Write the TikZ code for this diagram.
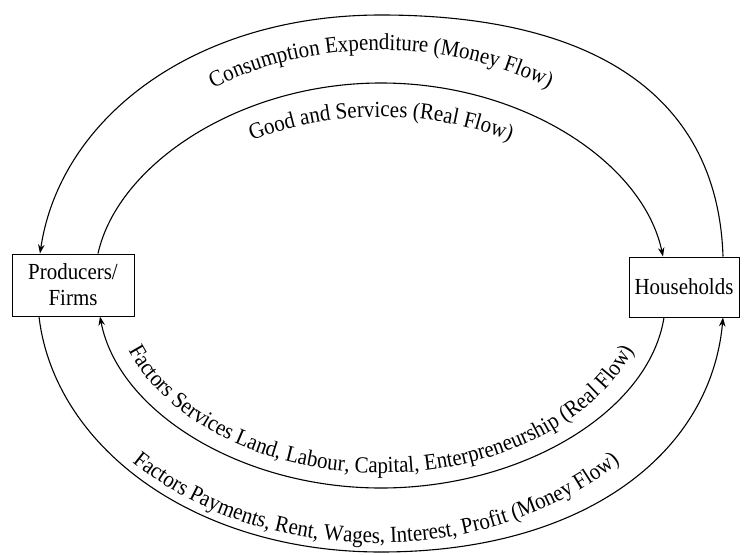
\documentclass[tikz,border=0pt]{standalone}
\usepackage{fontspec}
\setmainfont{Liberation Serif}[FakeStretch=0.91]
\usetikzlibrary{arrows.meta,decorations.text}

\newcommand{\flowfont}{\fontsize{23}{26}\selectfont}

\tikzset{
  sector/.style={draw, line width=1pt, align=center, inner sep=0pt,
    font=\flowfont},
  flow/.style={line width=1.1pt, -{Stealth[length=9pt,width=6.5pt]}},
  flowlabel/.style={decorate, decoration={text along path, text align=center,
    text={|\flowfont|#1}}}
}

\begin{document}
\begin{tikzpicture}[x=1pt, y=-1pt]
  \useasboundingbox (0,0) rectangle (744,554);

  % the two sectors of the economy
  \node[sector, minimum width=122pt, minimum height=62pt] (prod) at (73,285)
    {Producers/\\Firms};
  \node[sector, minimum width=110pt, minimum height=60pt] (hh) at (684,287)
    {Households};

  % money flow: consumption expenditure, households -> firms
  \draw[flow] (723,0 |- hh.north) .. controls (718,100) and (600,15) .. (381,15)
    .. controls (193,15) and (60,119) .. (40,0 |- prod.north);

  % real flow: goods and services, firms -> households
  \draw[flow] (98,0 |- prod.north) .. controls (118,164) and (240,83) .. (381,83)
    .. controls (522,83) and (643,162) .. (663,0 |- hh.north);

  % real flow: factor services, households -> firms
  \draw[flow] (664,0 |- hh.south) .. controls (649,412) and (522,488) .. (381,488)
    .. controls (240,488) and (118,411) .. (100,0 |- prod.south);

  % money flow: factor payments, firms -> households
  \draw[flow] (39,0 |- prod.south) .. controls (54,446) and (193,552) .. (381,552)
    .. controls (586,552) and (711,452) .. (723,0 |- hh.south);

  % labels set along the flows
  \path[flowlabel={Consumption Expenditure (Money Flow)}]
    (71,290) .. controls (71,157.5) and (209.8,50) .. (381,50)
    .. controls (552.2,50) and (691,157.5) .. (691,290);
  \path[flowlabel={Good and Services (Real Flow)}]
    (131,285.5) .. controls (131,192.4) and (242.9,117) .. (381,117)
    .. controls (519.1,117) and (631,192.4) .. (631,285.5);
  \path[flowlabel={Factors Services Land, Labour, Capital, Enterpreneurship (Real Flow)}]
    (112,285.5) .. controls (112,389.1) and (232.4,473) .. (381,473)
    .. controls (529.6,473) and (650,389.1) .. (650,285.5);
  \path[flowlabel={Factors Payments, Rent, Wages, Interest, Profit (Money Flow)}]
    (41,285) .. controls (41,427.5) and (191,543) .. (376,543)
    .. controls (561,543) and (711,427.5) .. (711,285);
\end{tikzpicture}
\end{document}
